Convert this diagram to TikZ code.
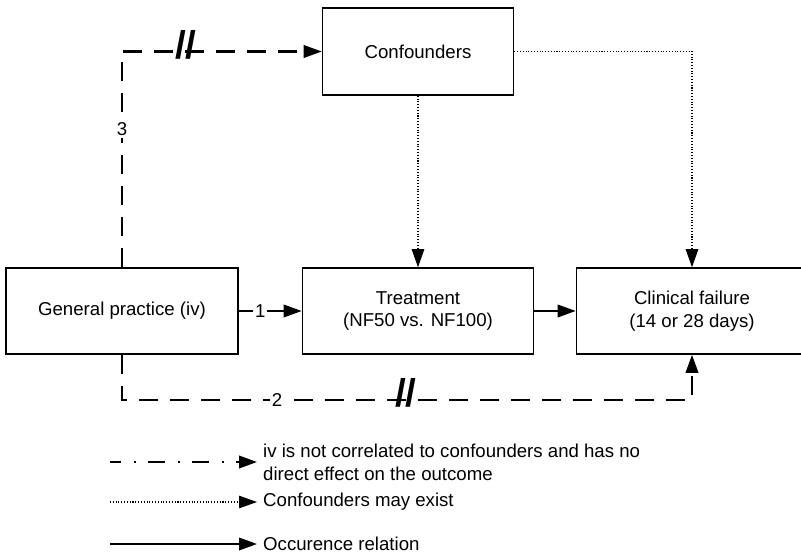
\documentclass[tikz,border=0pt]{standalone}
\usepackage{fontspec}
\setmainfont{Liberation Sans}
\usetikzlibrary{arrows.meta}

\tikzset{
  >={Triangle[length=0.36cm,width=0.25cm]},
  box/.style={draw, line width=0.9pt, minimum height=1.72cm, align=center},
  ivdash/.style={line width=1.2pt, dash pattern=on 0.38cm off 0.24cm, ->},
  confdot/.style={line width=0.6pt, dash pattern=on 0.6pt off 1pt, ->},
  occ/.style={line width=1.1pt, ->},
  keyiv/.style={line width=1.2pt, dash pattern=on 0.34cm off 0.26cm on 0.04cm off 0.24cm, dash phase=0.12cm, ->},
  lbl/.style={fill=white, inner sep=1pt},
  brk/.style={font=\fontsize{22}{22}\selectfont\bfseries, inner sep=0pt, yshift=0.14cm},
  legtxt/.style={anchor=west, align=left}
}

\begin{document}
\begin{tikzpicture}[font=\fontsize{10.6}{13}\selectfont]
				\useasboundingbox (0,0) rectangle (16.02,11.08);

				\node[box, minimum width=3.82cm, minimum height=1.74cm] (conf) at (8.36,10.05) {Confounders};
				\node[box, minimum width=4.64cm] (gp) at (2.44,4.86) {General practice (iv)};
				\node[box, minimum width=4.62cm] (treat) at (8.36,4.86) {Treatment\\(NF50 vs. NF100)};
				\node[box, minimum width=4.62cm] (cf) at (13.84,4.86) {Clinical failure\\(14 or 28 days)};

				\draw[ivdash] (gp.north) |- node[lbl, pos=0.32] (n3) {3} node[brk, pos=0.66] (b1) {//} (conf.west);
				\draw[ivdash] (gp.south) -- ++(0,-0.9) -| node[lbl, pos=0.136] (n2) {2} node[brk, pos=0.249] (b2) {//} (cf.south);

				\draw[confdot] (conf.south) -- (treat.north);
				\draw[confdot] (conf.east) -| (cf.north);

				\draw[occ] (gp.east) -- node[lbl, pos=0.34] (n1) {1} (treat.west);
				\draw[occ] (treat.east) -- (cf.west);

				\coordinate (k1) at (2.2,1.84);
				\coordinate (k2) at (2.2,1.04);
				\coordinate (k3) at (2.2,0.2);
				\node[legtxt] (t1) at (5.14,1.84) {iv is not correlated to confounders and has no\\direct effect on the outcome};
				\node[legtxt] (t2) at (5.14,1.04) {Confounders may exist};
				\node[legtxt] (t3) at (5.14,0.2) {Occurence relation};
				\draw[keyiv] (k1) -- (t1.west);
				\draw[confdot] (k2) -- (t2.west);
				\draw[occ] (k3) -- (t3.west);
\end{tikzpicture}
\end{document}
